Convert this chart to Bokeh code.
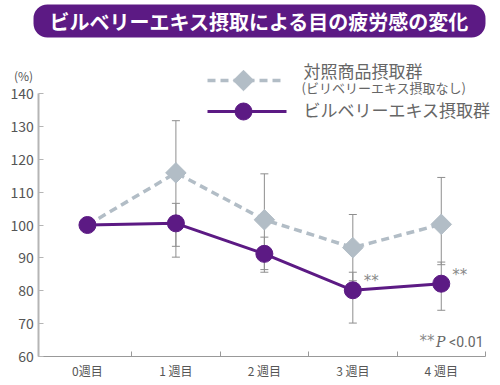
import math
from bokeh.plotting import figure
from bokeh.models import (ColumnDataSource, Range1d, FixedTicker, Whisker,
                          TeeHead, Label)
from bokeh.core.properties import value
from bokeh.embed import file_html
from bokeh.resources import INLINE

# ---------------- data ----------------
weeks = ["0週目", "1 週目", "2 週目", "3 週目", "4 週目"]
control = [100, 115.9, 101.6, 93.1, 100.2]
control_upper = [None, 131.8, 115.6, 103.2, 114.5]
control_lower = [None, 90.2, 85.6, 83.0, 87.9]
bilberry = [100, 100.5, 91.2, 80.1, 82.1]
bilberry_upper = [None, 106.6, 96.3, 85.6, 88.7]
bilberry_lower = [None, 93.5, 86.4, 70.1, 74.0]
significance = ["", "", "", "**", "**"]
y_ticks = [60, 70, 80, 90, 100, 110, 120, 130, 140]
title_text = "ビルベリーエキス摂取による目の疲労感の変化"
control_name = "対照商品摂取群"
control_note = "(ビリベリーエキス摂取なし)"
bilberry_name = "ビルベリーエキス摂取群"
y_unit = "(%)"

# ---------------- style ----------------
PURPLE = "#5c1a84"
GRAY_MARK = "#b2bdc6"
ERR = "#8e8e8e"
AXIS = "#b5b5b5"
TXT = "#555555"
LEG = "#666666"
FONT = "Noto Sans CJK JP"

W, H = 500, 385
AX_L, AX_R, AX_B, AX_T = 38.3, 485, 355.7, 93.3   # axis box in page px
X0, X1 = -0.55, 4.5
PPX = (AX_R - AX_L) / (X1 - X0)
PPU = (AX_B - AX_T) / 80.0
XS = X0 - AX_L / PPX
XE = XS + W / PPX
YB = 60 - (H - AX_B) / PPU
YT = YB + H / PPU

def dx(px):  # page px -> data x
    return XS + px / PPX

def dy(py):  # page px -> data y
    return YB + (H - py) / PPU

p = figure(width=W, height=H, output_backend="svg", toolbar_location=None,
           title=None, x_range=Range1d(XS, XE), y_range=Range1d(YB, YT),
           min_border=0)
p.outline_line_color = None
p.grid.visible = False
p.background_fill_color = "white"
p.border_fill_color = "white"

xs = list(range(len(weeks)))

# axes (drawn at fixed locations inside the full-canvas frame)
p.xaxis.fixed_location = 60
p.xaxis.bounds = (X0, X1)
p.xaxis.ticker = FixedTicker(ticks=xs, minor_ticks=[i + 0.5 for i in xs])
p.xaxis.major_label_overrides = {i: w for i, w in zip(xs, weeks)}
p.xaxis.major_tick_in = 0
p.xaxis.major_tick_out = 0
p.xaxis.minor_tick_in = 5
p.xaxis.minor_tick_out = 0
p.xaxis.minor_tick_line_color = "#999999"
p.xaxis.axis_line_color = "#999999"
p.xaxis.axis_line_width = 1
p.xaxis.major_label_text_font = FONT
p.xaxis.major_label_text_font_size = "12px"
p.xaxis.major_label_text_color = TXT
p.xaxis.major_label_standoff = 6

p.yaxis.fixed_location = X0
p.yaxis.bounds = (60, 140)
p.yaxis.ticker = FixedTicker(ticks=y_ticks, minor_ticks=[])
p.yaxis.major_tick_in = 5
p.yaxis.major_tick_out = 0
p.yaxis.major_tick_line_color = AXIS
p.yaxis.axis_line_color = AXIS
p.yaxis.axis_line_width = 2
p.yaxis.major_label_text_font = FONT
p.yaxis.major_label_text_font_size = "14px"
p.yaxis.major_label_text_color = TXT
p.yaxis.major_label_standoff = 5

# error bars
def whisker(up, lo):
    idx = [i for i in xs if up[i] is not None]
    src = ColumnDataSource(dict(x=idx, up=[up[i] for i in idx], lo=[lo[i] for i in idx]))
    w = Whisker(base="x", upper="up", lower="lo", source=src, line_color=ERR, line_width=1,
                upper_head=TeeHead(size=8, line_color=ERR, line_width=1),
                lower_head=TeeHead(size=8, line_color=ERR, line_width=1))
    w.level = "underlay"
    p.add_layout(w)

whisker(control_upper, control_lower)
whisker(bilberry_upper, bilberry_lower)

# control series
p.line(xs, control, line_color=GRAY_MARK, line_width=3.5, line_dash="8 5")
cidx = [i for i in xs if control_upper[i] is not None]
p.scatter([xs[i] for i in cidx], [control[i] for i in cidx], marker="square",
          angle=math.pi / 4, size=14.5, fill_color=GRAY_MARK, line_color=GRAY_MARK)

# bilberry series
p.line(xs, bilberry, line_color=PURPLE, line_width=3)
p.scatter(xs, bilberry, marker="circle", size=17, fill_color=PURPLE, line_color=PURPLE)

p.text(xs, bilberry, text=significance, x_offset=11, y_offset=-9, text_align="left",
       text_baseline="middle", text_font=value("DejaVu Sans"), text_font_size="15px",
       text_color="#888888")

# title banner
p.add_layout(Label(x=dx(259), y=dy(20.5), text=title_text, text_align="center",
                   text_baseline="middle", text_font=FONT, text_font_style="bold",
                   text_font_size="20px", text_color="white",
                   background_fill_color=PURPLE, border_radius=14,
                   padding=dict(left=16, right=16, top=2, bottom=2)))

# legend (manual)
p.line([dx(207), dx(283)], [dy(80), dy(80)], line_color=GRAY_MARK, line_width=3.5, line_dash="8 5")
p.scatter([dx(243)], [dy(80)], marker="square", angle=math.pi / 4, size=14.5,
          fill_color=GRAY_MARK, line_color=GRAY_MARK)
p.line([dx(207), dx(286)], [dy(111), dy(111)], line_color=PURPLE, line_width=3)
p.scatter([dx(243)], [dy(111)], marker="circle", size=17, fill_color=PURPLE, line_color=PURPLE)

p.add_layout(Label(x=dx(303), y=dy(69.5), text=control_name, text_align="left",
                   text_baseline="middle", text_font=FONT, text_font_size="17px",
                   text_color=LEG))
p.add_layout(Label(x=dx(301), y=dy(87), text=control_note, text_align="left",
                   text_baseline="middle", text_font=FONT, text_font_size="13px",
                   text_color=LEG))
p.add_layout(Label(x=dx(303), y=dy(109), text=bilberry_name, text_align="left",
                   text_baseline="middle", text_font=FONT, text_font_size="17px",
                   text_color=LEG))

# unit label
p.add_layout(Label(x=dx(23), y=dy(75), text=y_unit, text_align="center",
                   text_baseline="middle", text_font=FONT, text_font_size="12px",
                   text_color=TXT))

# p-value note
p.add_layout(Label(x=dx(483), y=dy(341.5), text="<0.01", text_align="right",
                   text_baseline="middle", text_font="Roboto", text_font_size="14px",
                   text_color="#666666"))
p.add_layout(Label(x=dx(445), y=dy(341.5), text="P", text_align="right",
                   text_baseline="middle", text_font="DejaVu Serif", text_font_style="italic",
                   text_font_size="14px", text_color="#666666"))
p.add_layout(Label(x=dx(434), y=dy(340), text="**", text_align="right",
                   text_baseline="middle", text_font="DejaVu Sans", text_font_size="15px",
                   text_color="#888888"))

open("out.html", "w").write(file_html(p, INLINE))
